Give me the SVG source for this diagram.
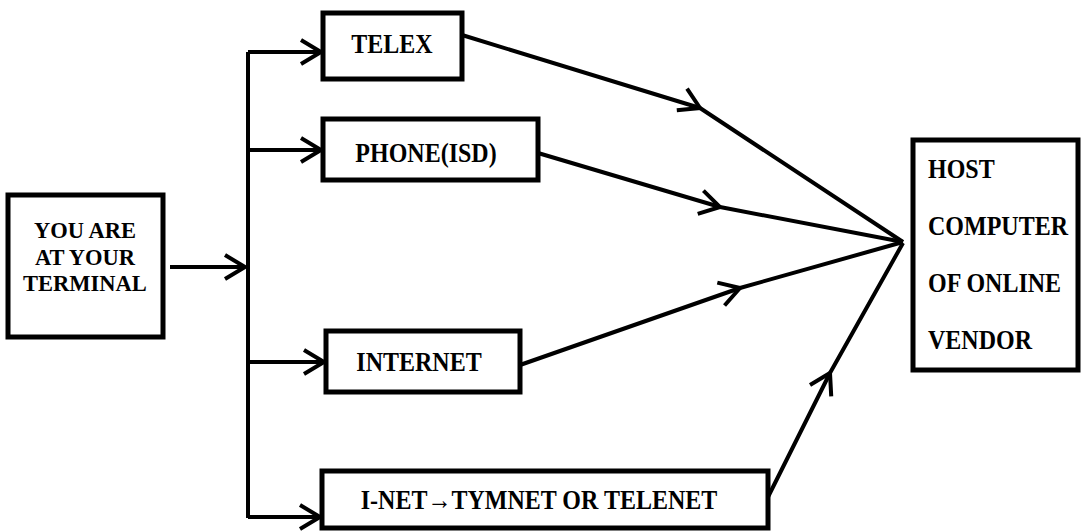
<svg xmlns="http://www.w3.org/2000/svg" width="1081" height="531" viewBox="0 0 1081 531">
<style>
.box{fill:#fff;stroke:#000;stroke-width:5}
.ln{fill:none;stroke:#000;stroke-width:4;stroke-linejoin:round}
.t{font-family:'Liberation Serif','Times New Roman','DejaVu Serif',serif;font-weight:bold;font-size:24px;fill:#000}
.s{font-size:22.5px}
</style>
<defs>
<marker id="chev" markerUnits="userSpaceOnUse" viewBox="-22 -14 26 28" refX="0" refY="0" markerWidth="26" markerHeight="28" orient="auto" overflow="visible">
<path d="M-20,-12 L0,0 L-20,12" fill="none" stroke="#000" stroke-width="4" stroke-linejoin="miter"/>
</marker>
</defs>
<rect width="1081" height="531" fill="#fff"/>
<g id="connectors">
<path class="ln" d="M170,267 L245,267" marker-end="url(#chev)"/>
<path class="ln" d="M248,52 L248,518"/>
<path class="ln" d="M248,52 L321,52" marker-end="url(#chev)"/>
<path class="ln" d="M248,150 L321,150" marker-end="url(#chev)"/>
<path class="ln" d="M248,362 L324,362" marker-end="url(#chev)"/>
<path class="ln" d="M248,517 L320,517" marker-end="url(#chev)"/>
<path class="ln" d="M462,35 L700,108 L903,242" marker-mid="url(#chev)"/>
<path class="ln" d="M538,153 L720,207 L903,242" marker-mid="url(#chev)"/>
<path class="ln" d="M520,365 L740,288 L903,242" marker-mid="url(#chev)"/>
<path class="ln" d="M768,497 L830,373 L903,243" marker-mid="url(#chev)"/>
</g>
<g id="terminal">
<rect class="box" x="8" y="195" width="155" height="142"/>
<text class="t s" x="85" y="238" text-anchor="middle">YOU ARE</text>
<text class="t s" x="85" y="264.5" text-anchor="middle">AT YOUR</text>
<text class="t s" x="85" y="291" text-anchor="middle">TERMINAL</text>
</g>
<g id="telex">
<rect class="box" x="323" y="13" width="139" height="66"/>
<text class="t" transform="translate(392,53) scale(1,1.15)" text-anchor="middle">TELEX</text>
</g>
<g id="phone">
<rect class="box" x="323" y="119" width="215" height="61"/>
<text class="t" transform="translate(426,162) scale(1,1.15)" text-anchor="middle">PHONE(ISD)</text>
</g>
<g id="internet">
<rect class="box" x="326" y="331" width="194" height="61"/>
<text class="t" transform="translate(419,371) scale(1,1.15)" text-anchor="middle">INTERNET</text>
</g>
<g id="inet">
<rect class="box" x="322" y="471" width="446" height="57"/>
<text class="t" transform="translate(539,509) scale(1,1.15)" text-anchor="middle">I-NET→TYMNET OR TELENET</text>
</g>
<g id="host">
<rect class="box" x="913" y="140" width="165" height="230"/>
<text class="t" transform="translate(928,178) scale(1,1.15)">HOST</text>
<text class="t" transform="translate(928,235) scale(1,1.15)">COMPUTER</text>
<text class="t" transform="translate(928,292) scale(1,1.15)">OF ONLINE</text>
<text class="t" transform="translate(928,349) scale(1,1.15)">VENDOR</text>
</g>
</svg>
